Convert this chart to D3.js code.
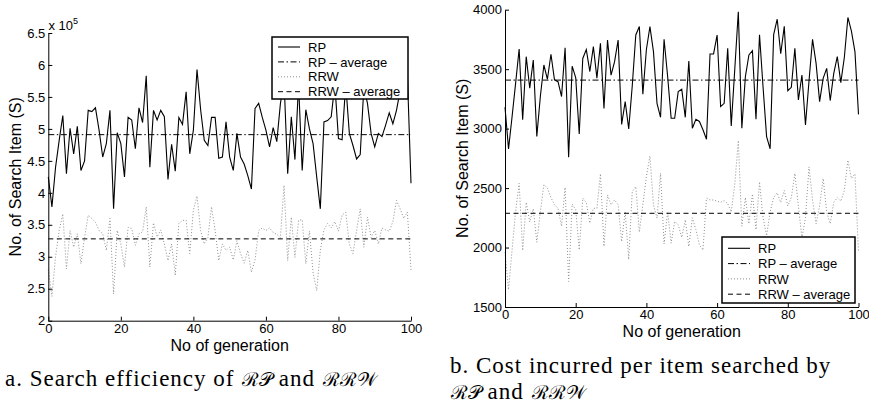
<!DOCTYPE html>
<html>
<head>
<meta charset="utf-8">
<script src="https://cdn.jsdelivr.net/npm/d3@7"></script>
<style>
body { margin: 0; background: #fff; }
svg { display: block; }
text { font-family: "Liberation Sans", Arial, Helvetica, sans-serif; fill: #000; }
.cap { font-family: "Liberation Serif", "Times New Roman", serif; }
</style>
</head>
<body>
<svg width="869" height="405"></svg>
<script>
// generation number on the x axis
var generations = d3.range(0, 101);

// panel a: search efficiency, values in units of 10^5
var effRP = [4.25, 3.78, 4.40, 4.82, 5.21, 4.30, 5.01, 4.61, 5.04, 4.35,
    4.50, 5.29, 5.27, 5.33, 4.98, 4.56, 4.77, 5.29, 3.75, 4.94,
    4.77, 4.25, 5.18, 5.14, 4.69, 5.33, 5.10, 5.83, 4.40, 5.29,
    5.14, 5.29, 5.19, 4.21, 4.76, 4.34, 5.18, 5.07, 5.58, 4.61,
    4.98, 5.93, 5.30, 4.82, 4.74, 5.18, 5.18, 4.54, 4.56, 5.11,
    4.56, 4.35, 4.93, 4.56, 4.45, 4.27, 4.06, 5.32, 5.40, 5.18,
    4.98, 4.72, 5.02, 4.80, 5.40, 5.75, 4.30, 5.19, 4.52, 5.70,
    4.35, 5.30, 5.00, 4.77, 4.25, 3.75, 5.11, 5.13, 5.19, 5.70,
    4.85, 4.83, 5.70, 4.93, 4.74, 4.53, 4.60, 5.65, 5.40, 4.93,
    4.72, 4.93, 4.88, 5.06, 5.25, 5.08, 5.29, 5.60, 5.55, 5.85,
    4.15];
var effRRW = [2.80, 2.38, 3.00, 3.41, 3.67, 2.81, 3.41, 3.15, 3.36, 2.89,
    3.30, 3.65, 3.60, 3.54, 3.41, 3.36, 3.10, 3.60, 2.42, 3.41,
    3.20, 2.84, 3.46, 3.44, 3.18, 3.36, 3.39, 3.78, 2.84, 3.53,
    3.31, 3.42, 3.20, 2.94, 3.20, 2.71, 3.52, 3.57, 3.57, 3.05,
    3.73, 3.95, 3.41, 3.20, 3.30, 3.78, 3.41, 2.94, 3.20, 3.10,
    3.15, 2.95, 3.25, 3.05, 2.90, 3.10, 2.76, 2.95, 3.41, 3.45,
    3.41, 3.45, 3.38, 3.35, 3.30, 4.12, 2.94, 3.62, 2.99, 3.57,
    3.58, 2.89, 3.40, 2.75, 2.47, 3.10, 3.42, 3.52, 3.45, 3.55,
    3.40, 3.65, 3.70, 3.20, 3.05, 3.41, 3.75, 3.15, 3.62, 3.30,
    3.41, 3.20, 3.45, 3.42, 3.40, 3.55, 3.88, 3.75, 3.60, 3.70,
    2.79];
var effAvgRP = 4.91;
var effAvgRRW = 3.28;

// panel b: cost per item searched
var costRP = [3180, 2830, 3100, 3380, 3670, 3075, 3605, 3340, 3577, 2935,
    3270, 3535, 3415, 3625, 3410, 3395, 3270, 3680, 2760, 3525,
    3430, 2955, 3590, 3665, 3480, 3690, 3425, 3717, 3170, 3745,
    3450, 3563, 3745, 3035, 3227, 2998, 3360, 3788, 3858, 3290,
    3665, 3858, 3647, 3213, 3095, 3751, 3440, 3087, 3087, 3311,
    3331, 3095, 3569, 3003, 3079, 3060, 2990, 2911, 3628, 3628,
    3787, 3185, 3213, 3675, 3023, 3500, 3983, 3003, 3437, 3619,
    3655, 3079, 3790, 3350, 2933, 2830, 3790, 3920, 3630, 3860,
    3319, 3347, 3675, 3241, 3451, 3031, 3400, 3751, 3549, 3227,
    3423, 3507, 3236, 3465, 3605, 3387, 3600, 3935, 3820, 3645,
    3120];
var costRRW = [1960, 1645, 1980, 2303, 2540, 1975, 2380, 2215, 2325, 2045,
    2300, 2530, 2500, 2420, 2360, 2330, 2180, 2505, 1715, 2365,
    2320, 1980, 2415, 2380, 2205, 2330, 2330, 2620, 2010, 2443,
    2360, 2400, 2360, 2050, 2303, 1900, 2471, 2513, 2130, 2360,
    2600, 2770, 2360, 2247, 2625, 2030, 2300, 2037, 2219, 2191,
    2085, 2233, 2009, 2250, 2150, 2023, 1978, 2415, 2400, 2400,
    2390, 2380, 2395, 2370, 2300, 2530, 2900, 2180, 2420, 2200,
    2450, 2150, 2552, 2250, 2100, 2300, 2420, 2460, 2380, 2480,
    2350, 2420, 2623, 2350, 2079, 2250, 2678, 2400, 2200, 2350,
    2581, 2300, 2200, 2380, 2420, 2390, 2480, 2734, 2580, 2620,
    1960];
var costAvgRP = 3408;
var costAvgRRW = 2288;

var xTicks = [0, 20, 40, 60, 80, 100];
var effTicks = [2, 2.5, 3, 3.5, 4, 4.5, 5, 5.5, 6, 6.5];
var costTicks = [1500, 2000, 2500, 3000, 3500, 4000];
var legendLabels = ["RP", "RP \u2013 average", "RRW", "RRW \u2013 average"];

var svg = d3.select("svg");

var styles = [
    { stroke: "#000", width: 1.1, dash: null },
    { stroke: "#000", width: 1, dash: "6,2.5,1.5,2.5" },
    { stroke: "#8f8f8f", width: 1, dash: "1,2" },
    { stroke: "#000", width: 1, dash: "5,3.5" }
];

function applyStyle(sel, s) {
    sel.attr("fill", "none")
        .attr("stroke", s.stroke)
        .attr("stroke-width", s.width)
        .attr("stroke-dasharray", s.dash);
}

function drawPanel(p) {
    var x = d3.scaleLinear().domain([0, 100]).range([p.left, p.right]);
    var y = d3.scaleLinear().domain(p.yDomain).range([p.bottom, p.top]);
    var g = svg.append("g");

    var line = d3.line()
        .x(function (d, i) { return x(generations[i]); })
        .y(function (d) { return y(d); });
    var flat = d3.line()
        .x(function (d) { return x(d[0]); })
        .y(function (d) { return y(d[1]); });

    var series = [
        line(p.rp),
        flat([[0, p.avgRP], [100, p.avgRP]]),
        line(p.rrw),
        flat([[0, p.avgRRW], [100, p.avgRRW]])
    ];
    // draw the dotted one first so the black lines sit over it
    [2, 0, 1, 3].forEach(function (k) {
        g.append("path").attr("d", series[k]).call(applyStyle, styles[k]);
    });

    var xAxis = g.append("g")
        .attr("transform", "translate(0," + p.bottom + ")")
        .call(d3.axisBottom(x).tickValues(xTicks).tickSize(-4).tickSizeOuter(0).tickPadding(3));
    var yAxis = g.append("g")
        .attr("transform", "translate(" + p.left + ",0)")
        .call(d3.axisLeft(y).tickValues(p.yTicks).tickFormat(p.fmt).tickSize(-4).tickSizeOuter(0).tickPadding(3));
    [xAxis, yAxis].forEach(function (a) {
        a.attr("font-family", null).attr("font-size", 13);
        a.selectAll("path, line").attr("stroke", "#000").attr("stroke-width", 1);
        a.selectAll("text").attr("fill", "#000");
    });

    g.append("text")
        .attr("x", (p.left + p.right) / 2)
        .attr("y", p.xLabelY)
        .attr("text-anchor", "middle")
        .attr("font-size", 16)
        .text("No of generation");
    g.append("text")
        .attr("transform", "translate(" + p.yLabelX + "," + (p.top + p.bottom) / 2 + ") rotate(-90)")
        .attr("text-anchor", "middle")
        .attr("font-size", 16)
        .text("No. of Search Item (S)");

    // legend box
    var lg = g.append("g").attr("transform", "translate(" + p.legend.x + "," + p.legend.y + ")");
    lg.append("rect")
        .attr("width", p.legend.w)
        .attr("height", p.legend.h)
        .attr("fill", "#fff")
        .attr("stroke", "#000")
        .attr("stroke-width", 1.5);
    var rows = lg.selectAll("g.row")
        .data(legendLabels)
        .enter()
        .append("g")
        .attr("class", "row")
        .attr("transform", function (d, i) { return "translate(0," + (p.legend.first + i * p.legend.step) + ")"; });
    rows.append("line")
        .attr("x1", 6).attr("x2", 28)
        .each(function (d, i) { d3.select(this).call(applyStyle, styles[i]); });
    rows.append("text")
        .attr("x", 36)
        .attr("dy", "0.36em")
        .attr("font-size", 13)
        .text(function (d) { return d; });
    return g;
}

var panelA = drawPanel({
    left: 48.3, right: 411, top: 33, bottom: 320.7,
    yDomain: [2, 6.5], yTicks: effTicks, fmt: d3.format("~g"),
    rp: effRP, rrw: effRRW, avgRP: effAvgRP, avgRRW: effAvgRRW,
    xLabelY: 350.5, yLabelX: 20.5,
    legend: { x: 272, y: 37, w: 136, h: 62, first: 10, step: 14.9 }
});
panelA.append("text")
    .attr("x", 48.5).attr("y", 30)
    .attr("font-size", 13)
    .text("x 10")
    .append("tspan")
    .attr("dy", -6)
    .attr("font-size", 9)
    .text("5");

// captions under the panels; script letters for RP and RRW
var RP = "\u211B\uD835\uDCAB";
var RRW = "\u211B\u211B\uD835\uDCB2";
var capSize = 23;
function caption(x, y, parts) {
    var t = svg.append("text").attr("class", "cap").attr("x", x).attr("y", y)
        .style("font-size", capSize + "px");
    parts.forEach(function (s) {
        var ts = t.append("tspan").text(s[0]);
        if (s[1]) ts.style("font-size", "19px").style("letter-spacing", "0px").attr("dx", 1);
    });
    return t;
}
var capB1 = caption(450, 372.5, [["b. Cost incurred per item searched by"]]);
var capA = caption(5, 386, [["a. Search efficiency of "], [RP, 1], ["\u2009and "], [RRW, 1]]);
var capB2 = caption(450, 398.5, [[RP, 1], ["\u2009and "], [RRW, 1]]);
// spread the letters a little so line b spans the same width as in the paper
var nChars = capB1.text().length;
var spacing = Math.max(0, Math.min(1, (402 - capB1.node().getComputedTextLength()) / (nChars - 1)));
[capA, capB1, capB2].forEach(function (t) {
    t.style("letter-spacing", spacing + "px");
});

drawPanel({
    left: 505, right: 858.5, top: 9.7, bottom: 307,
    yDomain: [1500, 4000], yTicks: costTicks, fmt: d3.format("d"),
    rp: costRP, rrw: costRRW, avgRP: costAvgRP, avgRRW: costAvgRRW,
    xLabelY: 337, yLabelX: 467.5,
    legend: { x: 722, y: 237, w: 133, h: 66, first: 11.3, step: 15.3 }
});
</script>
</body>
</html>
